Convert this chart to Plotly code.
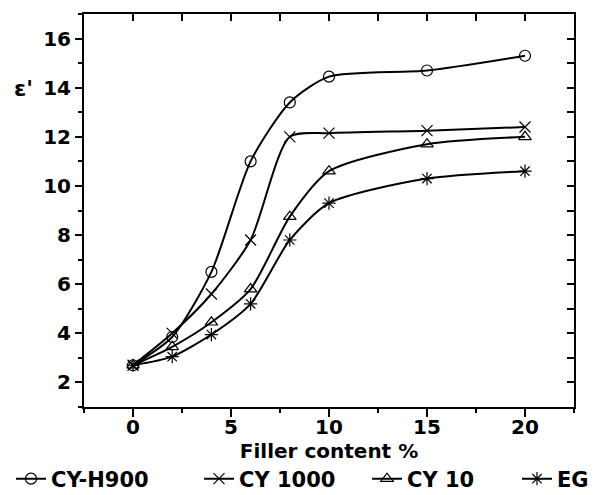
import plotly.graph_objects as go

# Filler content (%) and real permittivity for each filler type
filler = [0, 2, 4, 6, 8, 10, 15, 20]
cy_h900 = [2.7, 3.85, 6.5, 11.0, 13.4, 14.45, 14.7, 15.3]
cy_1000 = [2.7, 4.0, 5.6, 7.8, 12.0, 12.15, 12.25, 12.4]
cy_10 = [2.7, 3.45, 4.45, 5.8, 8.75, 10.6, 11.7, 12.0]
eg = [2.7, 3.05, 3.95, 5.2, 7.8, 9.3, 10.3, 10.6]

series_names = ["CY-H900", "CY 1000", "CY 10", "EG"]
series_values = [cy_h900, cy_1000, cy_10, eg]
symbols = ["circle-open", "x-thin-open", "triangle-up-open", "asterisk-open"]

x_ticks = [0, 5, 10, 15, 20]
y_ticks = [2, 4, 6, 8, 10, 12, 14, 16]

FONT = "DejaVu Sans, sans-serif"
X_RANGE = [-2.5, 22.5]
Y_RANGE = [1, 17]

# page geometry (px)
W, H = 615, 495
M_L, M_R, M_T, M_B = 84, 41, 14, 88
PLOT_W = W - M_L - M_R
PLOT_H = H - M_T - M_B

# one legend per series so each key can sit at its own spot along the bottom row
legend_ids = ["legend", "legend2", "legend3", "legend4"]
legend_left_px = [11, 199, 367, 517]
LEGEND_ROW_Y = 479

fig = go.Figure()
for name, vals, sym, lid in zip(series_names, series_values, symbols, legend_ids):
    fig.add_trace(go.Scatter(
        x=filler, y=vals, name=name, mode="lines+markers", legend=lid,
        line=dict(color="black", width=2, shape="spline", smoothing=0.7),
        marker=dict(symbol=sym, size=11, color="black",
                    line=dict(color="black", width=1.2)),
    ))

# empty trace so the mirrored top/right frame axes get drawn
fig.add_trace(go.Scatter(x=[None], y=[None], xaxis="x2", yaxis="y2",
                         showlegend=False, hoverinfo="skip"))

axis_common = dict(
    showgrid=False, zeroline=False, showline=True,
    linecolor="black", linewidth=2,
    tickfont=dict(family=FONT, size=20, color="black", weight="bold"),
)
frame_common = dict(
    ticks="inside", ticklen=7, tickwidth=2, tickcolor="black",
    showticklabels=False, showgrid=False, zeroline=False,
    showline=True, linecolor="black", linewidth=2,
)

legend_style = dict(
    orientation="h", xanchor="left", yanchor="middle",
    y=(H - M_B - LEGEND_ROW_Y) / PLOT_H,
    font=dict(family=FONT, size=21, color="black", weight="bold"),
    bgcolor="rgba(0,0,0,0)", borderwidth=0,
)
legends = {
    lid: dict(x=(px - M_L) / PLOT_W, **legend_style)
    for lid, px in zip(legend_ids, legend_left_px)
}

fig.update_layout(
    width=W, height=H,
    margin=dict(l=M_L, r=M_R, t=M_T, b=M_B, autoexpand=False),
    paper_bgcolor="white", plot_bgcolor="white",
    showlegend=True,
    xaxis=dict(
        range=X_RANGE, tickvals=x_ticks,
        ticks="outside", ticklen=8, tickwidth=2, tickcolor="black",
        ticklabelstandoff=-7,
        minor=dict(dtick=2.5, tick0=0, ticks="outside", ticklen=4,
                   tickwidth=2, tickcolor="black"),
        title=dict(text="Filler content %", standoff=2,
                   font=dict(family=FONT, size=20, color="black", weight="bold")),
        **axis_common,
    ),
    yaxis=dict(
        range=Y_RANGE, tickvals=y_ticks,
        ticks="outside", ticklen=7, tickwidth=2, tickcolor="black",
        minor=dict(dtick=1, tick0=1, ticks="outside", ticklen=4,
                   tickwidth=2, tickcolor="black"),
        **axis_common,
    ),
    xaxis2=dict(overlaying="x", side="top", anchor="y", range=X_RANGE,
                dtick=2.5, tick0=0, **frame_common),
    yaxis2=dict(overlaying="y", side="right", anchor="x", range=Y_RANGE,
                dtick=1, tick0=1, **frame_common),
    **legends,
)

# Horizontal y-axis symbol beside the tick labels
fig.add_annotation(
    text="ε'", xref="paper", yref="paper", x=(12 - M_L) / PLOT_W, y=0.81,
    xanchor="left", yanchor="middle", showarrow=False,
    font=dict(family=FONT, size=22, color="black", weight="bold"),
)

fig.write_html("out.html")
